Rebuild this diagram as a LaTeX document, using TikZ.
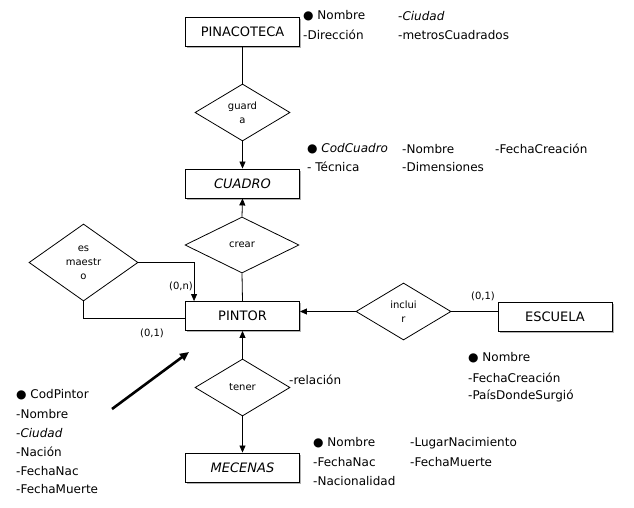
\documentclass[tikz,border=0pt]{standalone}
\usepackage{fontspec}
\setmainfont{DejaVu Sans}
\usetikzlibrary{shapes.geometric,arrows.meta}
\tikzset{
  ent/.style={draw, rectangle, line width=0.9pt, fill=white, minimum width=114pt, minimum height=29pt, inner sep=0pt, font=\fontsize{13}{15}\selectfont},
  rel/.style={draw, diamond, line width=0.8pt, inner sep=0pt, align=center, font=\fontsize{10}{14}\selectfont},
  attr/.style={anchor=west, inner sep=0pt, font=\fontsize{12}{14}\selectfont},
  card/.style={inner sep=0pt, font=\fontsize{10}{12}\selectfont},
  conn/.style={line width=0.8pt},
  arr/.style={line width=0.8pt, -{Triangle[length=7pt,width=6pt]}},
}
\begin{document}
\begin{tikzpicture}[x=1pt,y=-1pt]
\useasboundingbox (0,0) rectangle (634,508);
% shadows
\foreach \cx/\cy in {242.5/32, 242.5/183.5, 242.5/316, 555/316.5, 242.5/467.5}
  \fill[gray!60] (\cx-57+1.5,\cy-14.5+1.5) rectangle (\cx+57+1.5,\cy+14.5+1.5);
% entities
\node[ent] (pinacoteca) at (242.5,32) {PINACOTECA};
\node[ent] (cuadro) at (242.5,183.5) {\itshape CUADRO};
\node[ent] (pintor) at (242.5,316) {PINTOR};
\node[ent] (escuela) at (555,316.5) {ESCUELA};
\node[ent] (mecenas) at (242.5,467.5) {\itshape MECENAS};
% relations
\node[rel, minimum width=95pt, minimum height=57pt] (guarda) at (242.5,112.5) {guard\\a};
\node[rel, minimum width=114pt, minimum height=56pt] (crear) at (242,245) {crear};
\node[rel, minimum width=109pt, minimum height=77pt] (esmaestro) at (83.5,262.5) {es\\maestr\\o};
\node[rel, minimum width=95pt, minimum height=57pt] (incluir) at (403.5,311.5) {inclui\\r};
\node[rel, minimum width=95pt, minimum height=57pt] (tener) at (242.5,387.5) {tener};
% connectors
\draw[conn] (pinacoteca.south) -- (guarda.north);
\draw[arr] (guarda.south) -- (cuadro.north);
\draw[arr] (crear.north) -- (cuadro.south);
\draw[conn] (crear.south) -- (pintor.north);
\coordinate (pm) at ([xshift=9pt]pintor.north west);
\draw[arr] (esmaestro.east) -| (pm);
\draw[conn] (esmaestro.south) |- ([yshift=-2pt]pintor.west);
\draw[conn] (incluir.east) -- (incluir.east -| escuela.west);
\draw[arr] (incluir.west) -- (incluir.west -| pintor.east);
\draw[arr] (tener.north) -- (pintor.south);
\draw[arr] (tener.south) -- (mecenas.north);
\coordinate (ta) at (112,409);
\coordinate (tb) at (189,352);
\draw[line width=2.6pt, -{Triangle[length=9pt,width=8pt]}] (ta) -- (tb);
% cardinalities
\node[card] (c1) at (181,286) {(0,n)};
\node[card] (c2) at (152,333) {(0,1)};
\node[card] (c3) at (483,296) {(0,1)};
\node[attr] (rl) at (289,380) {-relación};
% attributes PINACOTECA
\node[attr] (p1) at (303,16) {● Nombre};
\node[attr] (p2) at (398,16) {-\textit{Ciudad}};
\node[attr] (p3) at (303,35) {-Dirección};
\node[attr] (p4) at (398,35) {-metrosCuadrados};
% attributes CUADRO
\node[attr] (q1) at (307,149) {● \textit{CodCuadro}};
\node[attr] (q2) at (402,149) {-Nombre};
\node[attr] (q3) at (495,149) {-FechaCreación};
\node[attr] (q4) at (307,167) {- Técnica};
\node[attr] (q5) at (402,167) {-Dimensiones};
% attributes ESCUELA
\node[attr] (e1) at (468,358) {● Nombre};
\node[attr] (e2) at (468,378) {-FechaCreación};
\node[attr] (e3) at (468,396) {-PaísDondeSurgió};
% attributes PINTOR
\node[attr] (t1) at (16,395) {● CodPintor};
\node[attr] (t2) at (16,414) {-Nombre};
\node[attr] (t3) at (16,433) {-\textit{Ciudad}};
\node[attr] (t4) at (16,452) {-Nación};
\node[attr] (t5) at (16,471) {-FechaNac};
\node[attr] (t6) at (16,489) {-FechaMuerte};
% attributes MECENAS
\node[attr] (m1) at (313,443) {● Nombre};
\node[attr] (m2) at (410,443) {-LugarNacimiento};
\node[attr] (m3) at (313,462) {-FechaNac};
\node[attr] (m4) at (410,462) {-FechaMuerte};
\node[attr] (m5) at (313,481) {-Nacionalidad};
\end{tikzpicture}
\end{document}
